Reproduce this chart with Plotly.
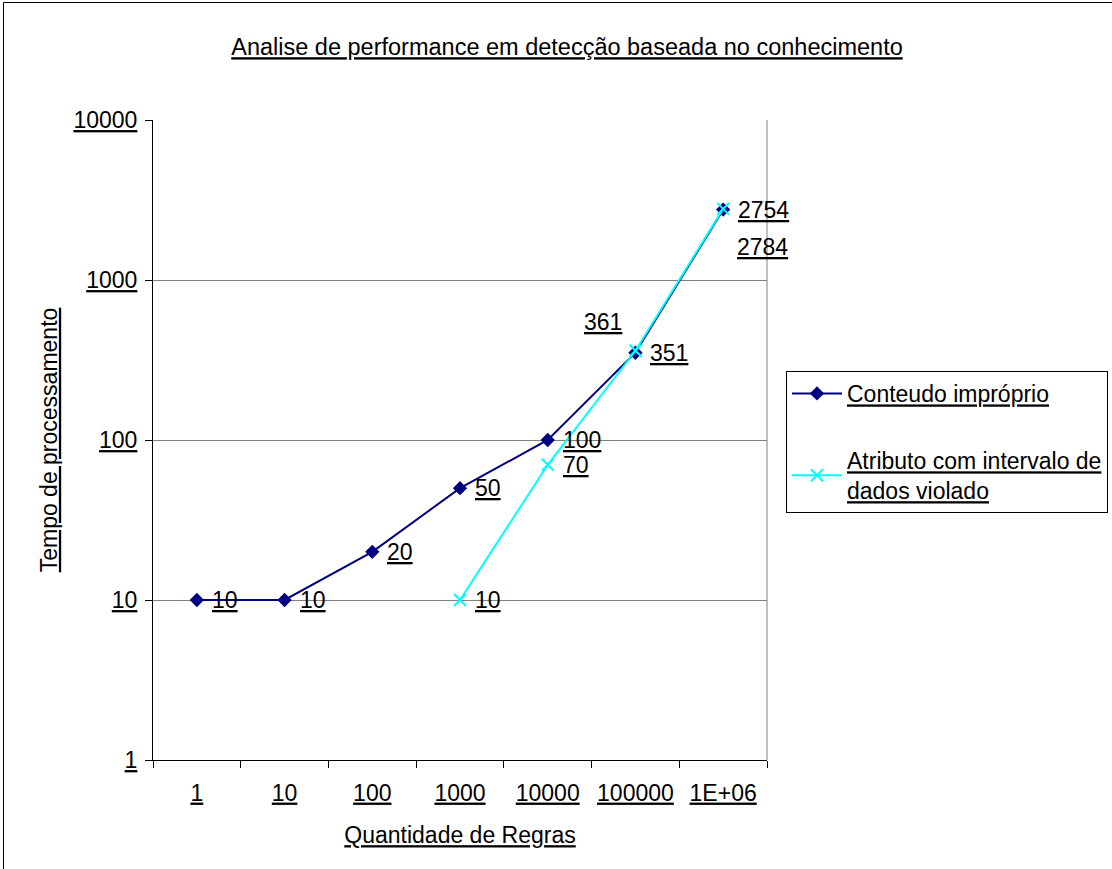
import math
import plotly.graph_objects as go

# ---- data ----
categories = ["1", "10", "100", "1000", "10000", "100000", "1E+06"]
conteudo = [10, 10, 20, 50, 100, 351, 2754]
atributo = [None, None, None, 10, 70, 361, 2784]
y_tick_vals = [1, 10, 100, 1000, 10000]
y_tick_text = ["1", "10", "100", "1000", "10000"]
series_names = ["Conteudo impróprio", "Atributo com intervalo de<br>dados violado"]

# ---- layout geometry (pixels) ----
W, H = 1112, 869
L, R, T, B = 153, 767, 120, 760
PW, PH = R - L, B - T


def px_x(x):
    return (x - L) / PW


def px_y(y):
    return (B - y) / PH


FONT = "Liberation Sans, Arial, sans-serif"
FS = 23
NAVY = "#000080"
CYAN = "#00FFFF"
GRID = "#808080"

fig = go.Figure()
fig.add_trace(go.Scatter(
    x=categories, y=conteudo, mode="lines+markers", name=series_names[0],
    line=dict(color=NAVY, width=2),
    marker=dict(symbol="diamond", size=11, color=NAVY),
    legendgroup="g1",
))
fig.add_trace(go.Scatter(
    x=categories, y=atributo, mode="lines+markers", name=series_names[1],
    line=dict(color=CYAN, width=2),
    marker=dict(symbol="x-thin", size=12, line=dict(color=CYAN, width=2)),
    legendgroup="g2",
))

# data labels (to the right of each point, a couple moved by hand as in the original)
label_font = dict(family=FONT, size=FS, color="black", lineposition="under")
default_shift = (13, 0)
moved = {(1, 5): (-53, 29), (1, 6): (12, -38)}
for s, vals in enumerate([conteudo, atributo]):
    for i, v in enumerate(vals):
        if v is None:
            continue
        dx, dy = moved.get((s, i), default_shift)
        fig.add_annotation(
            x=i, y=math.log10(v), xref="x", yref="y", text=str(v),
            showarrow=False, xanchor="left", yanchor="middle",
            xshift=dx, yshift=dy, font=label_font,
        )

fig.update_layout(
    width=W, height=H,
    margin=dict(l=L, r=W - R, t=T, b=H - B, autoexpand=False),
    paper_bgcolor="white", plot_bgcolor="white",
    font=dict(family=FONT, size=FS, color="black"),
    title=dict(
        text="Analise de performance em detecção baseada no conhecimento",
        font=dict(family=FONT, size=23.5, color="black", lineposition="under"),
        x=567 / W, xref="container", xanchor="center",
        y=1 - 47 / H, yref="container", yanchor="middle",
    ),
    xaxis=dict(
        type="category", range=[-0.5, 6.5], tickson="boundaries",
        ticks="outside", ticklen=7, tickcolor="black", tickwidth=1,
        showline=True, linecolor="black", linewidth=1,
        showgrid=False, zeroline=False,
        tickfont=dict(family=FONT, size=FS, color="black", lineposition="under"),
        ticklabelstandoff=12,
        title=dict(text="Quantidade de Regras", standoff=22,
                   font=dict(family=FONT, size=FS, color="black", lineposition="under")),
    ),
    yaxis=dict(
        type="log", range=[0, 4],
        tickvals=y_tick_vals, ticktext=y_tick_text,
        ticks="outside", ticklen=7, tickcolor="black", tickwidth=1,
        showline=True, linecolor="black", linewidth=1,
        showgrid=True, gridcolor=GRID, gridwidth=1, zeroline=False,
        tickfont=dict(family=FONT, size=FS, color="black", lineposition="under"),
        ticklabelstandoff=3,
        title=dict(text="Tempo de processamento", standoff=9,
                   font=dict(family=FONT, size=FS, color="black", lineposition="under")),
    ),
    legend=dict(
        x=px_x(786), y=px_y(371), xanchor="left", yanchor="top",
        bordercolor="black", borderwidth=1, bgcolor="white",
        font=dict(family=FONT, size=FS, color="black", lineposition="under"),
        itemwidth=50, tracegroupgap=34, traceorder="grouped",
    ),
    shapes=[
        # right border of plot area
        dict(type="line", xref="paper", yref="paper", x0=1, x1=1, y0=0, y1=1,
             line=dict(color=GRID, width=1)),
        # outer chart frame
        dict(type="rect", xref="paper", yref="paper",
             x0=px_x(3.5), x1=px_x(1300), y0=px_y(1000), y1=px_y(2.5),
             line=dict(color="black", width=1), fillcolor="rgba(0,0,0,0)", layer="below"),
    ],
)

fig.write_html(
    "out.html",
    config={"displayModeBar": False},
    post_script="document.body.style.margin='0';document.body.style.overflow='hidden';",
)
